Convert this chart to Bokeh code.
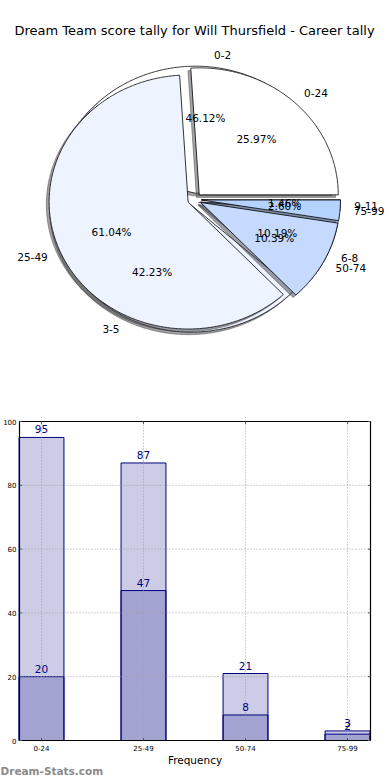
import numpy as np
from bokeh.plotting import figure
from bokeh.models import Range1d, ColumnDataSource
from bokeh.layouts import column
from bokeh.embed import file_html
from bokeh.resources import INLINE
from bokeh.core.properties import value

# ---------------- data ----------------
TITLE = "Dream Team score tally for Will Thursfield - Career tally"
pie1_labels = ["0-2", "3-5", "6-8", "9-11"]
pie1_values = [95, 87, 21, 3]
pie2_labels = ["0-24", "25-49", "50-74", "75-99"]
pie2_values = [20, 47, 8, 2]
bar_categories = ["0-24", "25-49", "50-74", "75-99"]
bar_back = [95, 87, 21, 3]
bar_front = [20, 47, 8, 2]
y_ticks = [0, 20, 40, 60, 80, 100]
x_label = "Frequency"
watermark = "Dream-Stats.com"

# ---------------- style ----------------
slice_colors = ["#ffffff", "#edf3ff", "#c6daff", "#b4d3ff"]
FONT = "DejaVu Sans"
EXPLODE = 0.05
SHADOW_OFF = 0.02
W = 390
PIE_H = 408
CX, CY = 194, 199          # pie centre (px from left / from top)
RX, RY = 139, 127          # px per unit radius

pie = figure(width=W, height=PIE_H, title=None,
             x_range=Range1d(-CX / RX, (W - CX) / RX),
             y_range=Range1d(-(PIE_H - CY) / RY, CY / RY),
             x_axis_location=None, y_axis_location=None,
             output_backend="svg", toolbar_location=None, min_border=0)
pie.grid.visible = False
pie.outline_line_color = None


def shade(hexcol):
    h = hexcol.lstrip("#")
    r, g, b = (int(h[i:i + 2], 16) for i in (0, 2, 4))
    return "#%02x%02x%02x" % (int(0.3 * r), int(0.3 * g), int(0.3 * b))


def build_pie(values, labels):
    vals = np.asarray(values, dtype=float)
    total = vals.sum()
    cum = np.concatenate([[0.0], np.cumsum(vals)]) / total * 2 * np.pi
    xs, ys, sxs, sys_ = [], [], [], []
    lab = {"lx": [], "ly": [], "lt": [], "rx": [], "ry": [], "rt": [],
           "px": [], "py": [], "pt": []}
    for i in range(len(vals)):
        t1, t2 = cum[i], cum[i + 1]
        tm = 0.5 * (t1 + t2)
        ox, oy = EXPLODE * np.cos(tm), EXPLODE * np.sin(tm)
        t = np.linspace(t1, t2, max(4, int((t2 - t1) / 0.01)))
        px = np.concatenate([[ox], ox + np.cos(t), [ox]])
        py = np.concatenate([[oy], oy + np.sin(t), [oy]])
        xs.append(list(px)); ys.append(list(py))
        sxs.append(list(px - SHADOW_OFF)); sys_.append(list(py - SHADOW_OFF))
        lx, ly = ox + 1.1 * np.cos(tm), oy + 1.1 * np.sin(tm)
        if lx > 0:
            lab["lx"].append(lx); lab["ly"].append(ly); lab["lt"].append(labels[i])
        else:
            lab["rx"].append(lx); lab["ry"].append(ly); lab["rt"].append(labels[i])
        lab["px"].append(ox + 0.6 * np.cos(tm))
        lab["py"].append(oy + 0.6 * np.sin(tm))
        lab["pt"].append("%.2f%%" % (100.0 * vals[i] / total))
    return xs, ys, sxs, sys_, lab


texts = []
for values, labels in ((pie1_values, pie1_labels), (pie2_values, pie2_labels)):
    xs, ys, sxs, sys_, lab = build_pie(values, labels)
    cols = [slice_colors[i % len(slice_colors)] for i in range(len(values))]
    scols = [shade(c) for c in cols]
    pie.patches(sxs, sys_, fill_color=scols, fill_alpha=0.5,
                line_color=scols, line_alpha=0.5, line_width=1)
    pie.patches(xs, ys, fill_color=cols, line_color="black", line_width=0.8)
    texts.append(lab)

TXT = dict(text_font=value(FONT), text_baseline="middle", text_color="black")
for lab in texts:
    if lab["lt"]:
        pie.text(lab["lx"], lab["ly"], text=lab["lt"], text_align="left",
                 text_font_size="10.5px", **TXT)
    if lab["rt"]:
        pie.text(lab["rx"], lab["ry"], text=lab["rt"], text_align="right",
                 text_font_size="10.5px", **TXT)
    pie.text(lab["px"], lab["py"], text=lab["pt"], text_align="center",
             text_font_size="10.5px", **TXT)

pie.text([0], [(CY - 30) / RY], text=[TITLE], text_align="center",
         text_font_size="13px", **TXT)

# ---------------- bar chart (axes box drawn on the data scales) ----------------
BAR_H = 780 - PIE_H
BOX_LEFT_PX, BOX_RIGHT_PX, BOX_TOP_PX, BOX_BOTTOM_PX = 19, 370, 421, 740
X0_PX, X_STEP = 41, 102                     # px of first category, px per category
Y_SCALE = (BOX_BOTTOM_PX - BOX_TOP_PX) / 100.0
idx = list(range(len(bar_categories)))
box_l = (BOX_LEFT_PX - X0_PX) / X_STEP
box_r = (BOX_RIGHT_PX - X0_PX) / X_STEP
y_lo, y_hi = 0, 100

bar = figure(width=W, height=BAR_H, title=None,
             x_range=Range1d(-X0_PX / X_STEP, (W - X0_PX) / X_STEP),
             y_range=Range1d(-(780 - BOX_BOTTOM_PX) / Y_SCALE,
                             100 + (BOX_TOP_PX - PIE_H) / Y_SCALE),
             x_axis_location=None, y_axis_location=None,
             output_backend="svg", toolbar_location=None, min_border=0)
bar.grid.visible = False
bar.outline_line_color = None

src = ColumnDataSource(dict(x=idx, back=bar_back, front=bar_front,
                            back_t=[str(v) for v in bar_back],
                            front_t=[str(v) for v in bar_front]))
bar.vbar(x="x", top="back", width=0.44, bottom=0, source=src,
         fill_color="navy", fill_alpha=0.2, line_color="navy", line_width=1)
bar.vbar(x="x", top="front", width=0.44, bottom=0, source=src,
         fill_color="navy", fill_alpha=0.2, line_color="navy", line_width=1)

# dotted grid at the ticks
bar.segment(x0=[box_l] * len(y_ticks), x1=[box_r] * len(y_ticks), y0=y_ticks, y1=y_ticks,
            line_color="#a0a0a0", line_dash="1 2", line_width=1)
bar.segment(x0=idx, x1=idx, y0=[y_lo] * len(idx), y1=[y_hi] * len(idx),
            line_color="#a0a0a0", line_dash="1 2", line_width=1)

# axes box
bar.quad(left=[box_l], right=[box_r], bottom=[y_lo], top=[y_hi],
         fill_color=None, line_color="black", line_width=1.2)

# small inward ticks on all four sides
tk_x = 2.5 / X_STEP
tk_y = 2.5 / Y_SCALE
bar.segment(x0=[box_l] * len(y_ticks), x1=[box_l + tk_x] * len(y_ticks),
            y0=y_ticks, y1=y_ticks, line_color="#555555", line_width=1)
bar.segment(x0=[box_r] * len(y_ticks), x1=[box_r - tk_x] * len(y_ticks),
            y0=y_ticks, y1=y_ticks, line_color="#555555", line_width=1)
bar.segment(x0=idx, x1=idx, y0=[y_lo] * len(idx), y1=[y_lo + tk_y] * len(idx),
            line_color="#555555", line_width=1)
bar.segment(x0=idx, x1=idx, y0=[y_hi] * len(idx), y1=[y_hi - tk_y] * len(idx),
            line_color="#555555", line_width=1)

# value labels
bar.text(x="x", y="back", text="back_t", source=src, text_font=value(FONT),
         text_font_size="10.5px", text_align="center", text_baseline="middle",
         y_offset=-8, text_color="navy")
bar.text(x="x", y="front", text="front_t", source=src, text_font=value(FONT),
         text_font_size="10.5px", text_align="center", text_baseline="middle",
         y_offset=-8, text_color="navy")

# tick labels
bar.text(x=[box_l] * len(y_ticks), y=y_ticks, text=[str(v) for v in y_ticks],
         x_offset=-3, text_align="right", text_baseline="middle",
         text_font=value(FONT), text_font_size="7px", text_color="black")
bar.text(x=idx, y=[y_lo] * len(idx), text=bar_categories, y_offset=4,
         text_align="center", text_baseline="top",
         text_font=value(FONT), text_font_size="7px", text_color="black")

# axis label and watermark
bar.text(x=[(box_l + box_r) / 2], y=[y_lo], text=[x_label], y_offset=19,
         text_align="center", text_baseline="middle",
         text_font=value(FONT), text_font_size="10.5px", text_color="black")
bar.text(x=[-X0_PX / X_STEP], y=[y_lo], text=[watermark], y_offset=30,
         text_align="left", text_baseline="middle",
         text_font=value(FONT), text_font_size="10.5px", text_font_style="bold",
         text_color="#8a8a8a")

out = column(pie, bar)
open("out.html", "w").write(file_html(out, INLINE))
